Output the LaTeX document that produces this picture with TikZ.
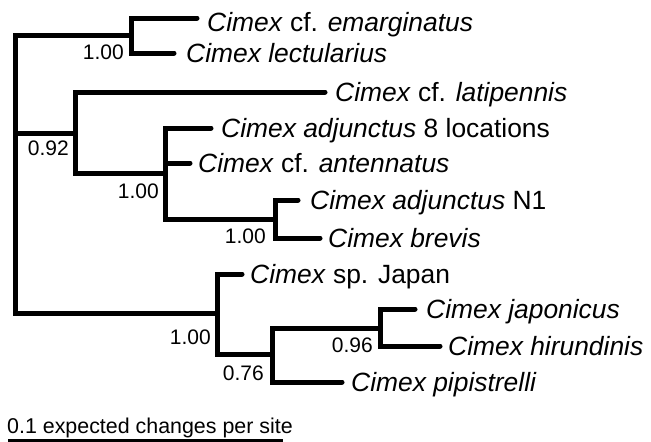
\documentclass[tikz,border=0pt]{standalone}
\usepackage{fontspec}
\setmainfont{Liberation Sans}
\begin{document}
\begin{tikzpicture}[x=1pt,y=-1pt,
  br/.style={line width=5pt, line cap=round, line join=miter},
  tiplab/.style={anchor=base west, inner sep=0pt, font=\fontsize{26.4}{31}\selectfont},
  suplab/.style={anchor=base east, inner sep=0pt, font=\fontsize{21}{25}\selectfont}]
\useasboundingbox (0,0) rectangle (651,442);
% internal nodes
\coordinate (root) at (15,174);
\coordinate (A) at (131,35);
\coordinate (B) at (75,133);
\coordinate (B2) at (165,173);
\coordinate (B3) at (275,219);
\coordinate (C) at (217,313);
\coordinate (C2) at (272,354);
\coordinate (C3) at (380,328);
% tips
\coordinate (tE) at (197,18);
\coordinate (tL) at (174,53);
\coordinate (tLat) at (325,92);
\coordinate (t8) at (211,128);
\coordinate (tAnt) at (190,163);
\coordinate (tN1) at (298,200);
\coordinate (tBre) at (320,238);
\coordinate (tJap) at (242,274);
\coordinate (tJpn) at (415,309);
\coordinate (tHir) at (440,346);
\coordinate (tPip) at (342,382);
% branches
\draw[br] (root) |- (A);
\draw[br] (root) |- (B);
\draw[br] (root) |- (C);
\draw[br] (A) |- (tE);
\draw[br] (A) |- (tL);
\draw[br] (B) |- (tLat);
\draw[br] (B) |- (B2);
\draw[br] (B2) |- (t8);
\draw[br] (B2) |- (tAnt);
\draw[br] (B2) |- (B3);
\draw[br] (B3) |- (tN1);
\draw[br] (B3) |- (tBre);
\draw[br] (C) |- (tJap);
\draw[br] (C) |- (C2);
\draw[br] (C2) |- (C3);
\draw[br] (C2) |- (tPip);
\draw[br] (C3) |- (tJpn);
\draw[br] (C3) |- (tHir);
% tip labels
\node[tiplab] (lE) at ([xshift=10pt,yshift=-13.5pt]tE) {\textit{Cimex} cf. \textit{emarginatus}};
\node[tiplab] (lL) at ([xshift=12pt,yshift=-9.2pt]tL) {\textit{Cimex lectularius}};
\node[tiplab] (lLat) at ([xshift=10pt,yshift=-9.2pt]tLat) {\textit{Cimex} cf. \textit{latipennis}};
\node[tiplab] (l8) at ([xshift=10pt,yshift=-9.2pt]t8) {\textit{Cimex adjunctus} 8 locations};
\node[tiplab] (lAnt) at ([xshift=8pt,yshift=-9.2pt]tAnt) {\textit{Cimex} cf. \textit{antennatus}};
\node[tiplab] (lN1) at ([xshift=12pt,yshift=-9.2pt]tN1) {\textit{Cimex adjunctus} N1};
\node[tiplab] (lBre) at ([xshift=8pt,yshift=-9.2pt]tBre) {\textit{Cimex brevis}};
\node[tiplab] (lJap) at ([xshift=8pt,yshift=-9.2pt]tJap) {\textit{Cimex} sp. Japan};
\node[tiplab] (lJpn) at ([xshift=11pt,yshift=-9.2pt]tJpn) {\textit{Cimex japonicus}};
\node[tiplab] (lHir) at ([xshift=8pt,yshift=-9.2pt]tHir) {\textit{Cimex hirundinis}};
\node[tiplab] (lPip) at ([xshift=9pt,yshift=-9.2pt]tPip) {\textit{Cimex pipistrelli}};
% support values
\node[suplab] (sA) at (124,59.5) {1.00};
\node[suplab] (sB) at (69,155.5) {0.92};
\node[suplab] (sB2) at (159,198.5) {1.00};
\node[suplab] (sB3) at (266,243.5) {1.00};
\node[suplab] (sC) at (211,344.5) {1.00};
\node[suplab] (sC2) at (264,380.5) {0.76};
\node[suplab] (sC3) at (373,352.5) {0.96};
% scale bar
\node[anchor=base west, inner sep=0pt, font=\fontsize{21.4}{25}\selectfont] (scl) at (7,433) {0.1 expected changes per site};
\coordinate (sbL) at (8,441.5);
\coordinate (sbR) at (283,441.5);
\draw[line width=5pt] (sbL) -- (sbR);
\end{tikzpicture}
\end{document}
